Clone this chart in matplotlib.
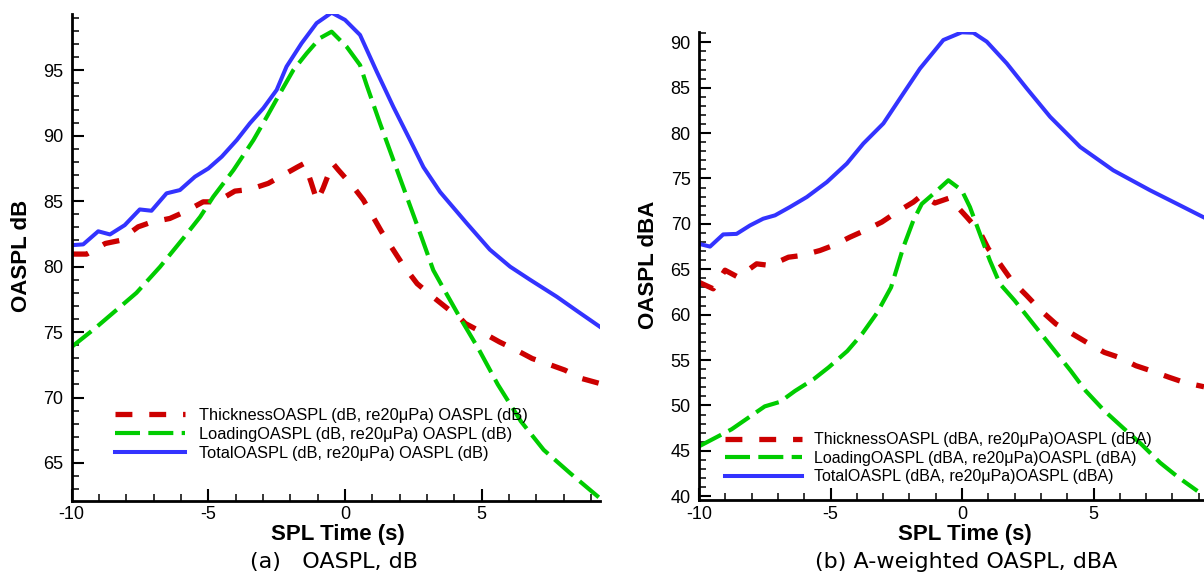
import matplotlib
matplotlib.use("Agg")
import matplotlib.pyplot as plt
from matplotlib.ticker import MultipleLocator

# ---- data ----
# (a) OASPL, dB
t_thick_a = [-10.0, -9.45, -8.77, -8.24, -7.57, -7.08, -6.41, -5.86, -5.19, -4.7, -4.03, -3.48,
             -2.81, -2.26, -1.75, -1.48, -1.25, -1.02, -0.8, -0.45, -0.25, 0.30, 0.67, 1.34, 2.13,
             2.64, 3.27, 3.9, 4.2, 4.4, 5.09, 5.65, 6.29, 6.85, 7.55, 8.04, 8.67, 9.33]
thick_a = [80.96, 80.96, 81.77, 82.0, 83.04, 83.4, 83.68, 84.19, 84.95, 84.95, 85.77, 85.9,
           86.36, 87.0, 87.6, 87.9, 86.5, 85.0, 86.0, 87.9, 87.4, 86.1, 85.1, 82.66, 80.1,
           78.7, 77.6, 76.55, 76.1, 75.66, 74.9, 74.25, 73.6, 72.98, 72.47, 72.1, 71.45, 71.07]

t_load_a = [-10.0, -9.14, -8.3, -7.63, -6.77, -5.92, -5.3, -4.82, -4.08, -3.35, -2.86, -2.38,
            -1.89, -1.4, -0.92, -0.49, 0.06, 0.55, 0.79, 1.28, 1.77, 2.26, 2.75, 3.23, 3.72,
            4.18, 4.89, 5.59, 6.43, 7.27, 8.25, 9.33]
load_a = [73.87, 75.3, 76.8, 78.0, 79.98, 82.16, 83.8, 85.34, 87.38, 89.67, 91.45, 93.24,
          95.02, 96.3, 97.45, 97.95, 96.8, 95.4, 93.88, 90.95, 88.14, 85.34, 82.54, 79.73, 77.9,
          76.2, 73.7, 71.0, 68.2, 66.0, 64.2, 62.3]

t_total_a = [-10.0, -9.58, -9.03, -8.6, -8.06, -7.51, -7.08, -6.53, -6.04, -5.49, -5.0, -4.51,
             -3.96, -3.48, -2.99, -2.5, -2.14, -1.59, -1.04, -0.49, 0.0, 0.55, 1.16, 1.77, 2.38,
             2.87, 3.48, 4.46, 5.3, 6.04, 6.77, 7.75, 8.5, 9.33]
total_a = [81.64, 81.7, 82.7, 82.46, 83.17, 84.37, 84.27, 85.6, 85.85, 86.87, 87.5, 88.4,
           89.67, 90.95, 92.1, 93.5, 95.28, 97.06, 98.6, 99.4, 98.85, 97.7, 94.9, 92.2, 89.67,
           87.6, 85.7, 83.3, 81.3, 80.0, 79.0, 77.7, 76.6, 75.4]

# (b) A-weighted OASPL, dBA
t_thick_b = [-10.0, -9.46, -9.01, -8.51, -7.81, -7.3, -6.6, -6.1, -5.4, -4.89, -4.26, -3.69,
             -3.05, -2.48, -1.85, -1.53, -1.03, -0.48, 0.18, 0.68, 1.0, 1.44, 1.89, 2.46, 3.0,
             3.57, 4.2, 4.84, 5.41, 5.97, 6.61, 7.18, 7.88, 8.45, 9.2]
thick_b = [63.57, 62.85, 64.9, 64.13, 65.6, 65.42, 66.33, 66.52, 67.07, 67.63, 68.54, 69.28,
           70.2, 71.3, 72.4, 73.15, 72.3, 72.85, 70.75, 69.1, 67.26, 65.6, 63.76, 62.1, 60.45,
           58.98, 57.88, 56.78, 55.85, 55.3, 54.38, 53.83, 53.1, 52.54, 52.06]

t_load_b = [-10.0, -8.76, -8.05, -7.5, -6.92, -6.35, -5.64, -5.07, -4.36, -3.8, -3.23, -2.7,
            -2.23, -1.85, -1.53, -1.09, -0.52, -0.01, 0.3, 0.68, 1.06, 1.44, 2.0, 2.71, 3.42,
            4.13, 4.7, 5.41, 6.11, 6.82, 7.53, 8.24, 8.95]
load_b = [45.5, 47.38, 48.8, 49.9, 50.4, 51.6, 52.9, 54.2, 56.0, 57.88, 60.2, 63.0,
          67.44, 70.38, 72.2, 73.3, 74.8, 73.7, 71.86, 68.9, 65.97, 63.4, 61.56, 58.98, 56.4,
          53.83, 51.62, 49.42, 47.57, 45.73, 43.7, 42.05, 40.58]

t_total_b = [-10.0, -9.58, -9.08, -8.57, -8.06, -7.56, -7.11, -6.54, -5.9, -5.14, -4.38, -3.75,
             -2.99, -2.23, -1.6, -0.71, -0.01, 0.43, 0.94, 1.7, 2.46, 3.35, 4.49, 5.75, 7.15,
             8.16, 9.17]
total_b = [67.8, 67.5, 68.84, 68.9, 69.83, 70.57, 70.94, 71.86, 72.96, 74.6, 76.64, 78.85,
           81.06, 84.37, 87.1, 90.25, 91.1, 91.05, 90.07, 87.68, 84.92, 81.79, 78.48, 75.9, 73.7,
           72.23, 70.75]

RED, GREEN, BLUE = "#cc0000", "#00cc00", "#3333ff"
SANS = ["Liberation Sans", "DejaVu Sans"]

plt.rcParams["font.family"] = SANS
plt.rcParams["axes.unicode_minus"] = False

fig = plt.figure(figsize=(12.04, 5.76), dpi=100)
ax1 = fig.add_axes([0.05955, 0.13073, 0.43879, 0.84497])
ax2 = fig.add_axes([0.58056, 0.13194, 0.41944, 0.81198])


def style_axes(ax, ylim, xmax):
    ax.set_xlim(-10, xmax)
    ax.set_ylim(*ylim)
    for s in ["top", "right"]:
        ax.spines[s].set_visible(False)
    for s in ["left", "bottom"]:
        ax.spines[s].set_linewidth(2.0)
    ax.xaxis.set_major_locator(MultipleLocator(5))
    ax.xaxis.set_minor_locator(MultipleLocator(1))
    ax.yaxis.set_major_locator(MultipleLocator(5))
    ax.yaxis.set_minor_locator(MultipleLocator(1))
    ax.tick_params(which="both", direction="in", top=False, right=False, labelsize=13)
    ax.tick_params(which="major", length=8.5, width=1.5)
    ax.tick_params(which="minor", length=5, width=1.1)
    ax.tick_params(axis="x", pad=4)
    ax.tick_params(axis="y", pad=6)


def draw(ax, t1, y1, t2, y2, t3, y3, labels):
    ax.plot(t1, y1, color=RED, lw=3.8, dashes=(3.2, 3.2), label=labels[0])
    ax.plot(t2, y2, color=GREEN, lw=3.0, dashes=(6.0, 2.0), label=labels[1])
    ax.plot(t3, y3, color=BLUE, lw=2.9, label=labels[2])


draw(ax1, t_thick_a, thick_a, t_load_a, load_a, t_total_a, total_a,
     ["ThicknessOASPL (dB, re20μPa) OASPL (dB)",
      "LoadingOASPL (dB, re20μPa) OASPL (dB)",
      "TotalOASPL (dB, re20μPa) OASPL (dB)"])
draw(ax2, t_thick_b, thick_b, t_load_b, load_b, t_total_b, total_b,
     ["ThicknessOASPL (dBA, re20μPa)OASPL (dBA)",
      "LoadingOASPL (dBA, re20μPa)OASPL (dBA)",
      "TotalOASPL (dBA, re20μPa)OASPL (dBA)"])

style_axes(ax1, (62.12, 99.3), 9.33)
style_axes(ax2, (39.59, 91.1), 9.2)

ax1.legend(loc="upper left", bbox_to_anchor=(0.082, 0.191), frameon=False, fontsize=11.8,
           handlelength=4.3, handletextpad=0.85, labelspacing=0.25, borderpad=0, borderaxespad=0)
ax2.legend(loc="upper left", bbox_to_anchor=(0.0515, 0.1445), frameon=False, fontsize=11.5,
           handlelength=4.8, handletextpad=0.75, labelspacing=0.22, borderpad=0, borderaxespad=0)

for ax, ylab in [(ax1, "OASPL dB"), (ax2, "OASPL dBA")]:
    ax.set_xlabel("SPL Time (s)", fontsize=16, fontweight="bold")
    ax.set_ylabel(ylab, fontsize=16, fontweight="bold")
    ax.xaxis.label.set_va("center")
    ax.yaxis.label.set_va("center")

ax1.xaxis.set_label_coords((338 - 71.7) / 528.3, (500.7 - 535) / 486.7)
ax1.yaxis.set_label_coords((22 - 71.7) / 528.3, (500.7 - 256) / 486.7)
ax2.xaxis.set_label_coords((965 - 699) / 505.0, (500 - 534) / 467.7)
ax2.yaxis.set_label_coords((649 - 699) / 505.0, (500 - 265) / 467.7)

cap = dict(fontsize=16, family=["DejaVu Sans"], ha="center", va="center")
fig.text(334 / 1204, 1 - 562 / 576, "(a)   OASPL, dB", **cap)
fig.text(966 / 1204, 1 - 562 / 576, "(b) A-weighted OASPL, dBA", **cap)

fig.savefig("out.png", dpi=100)
